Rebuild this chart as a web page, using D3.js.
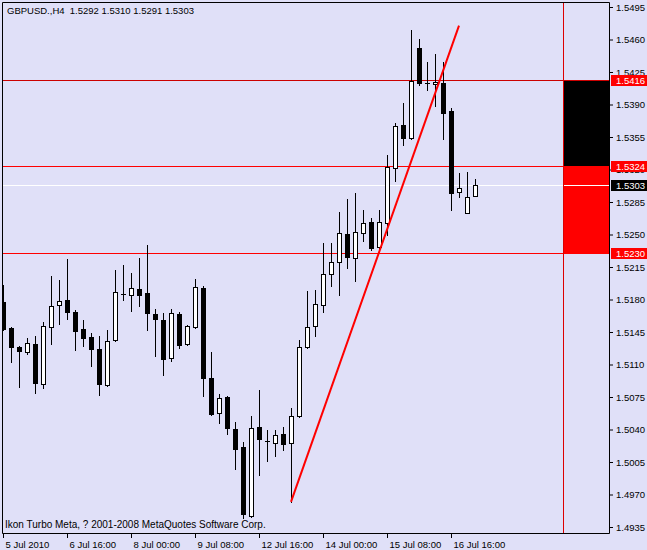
<!DOCTYPE html>
<html>
<head>
<meta charset="utf-8">
<script src="https://cdn.jsdelivr.net/npm/d3@7"></script>
<style>
  html, body { margin: 0; padding: 0; background: #E0E0F8; }
  svg { display: block; }
  text { font-family: "Liberation Sans", Arial, sans-serif; }
</style>
</head>
<body>
<svg id="chart" width="647" height="550"></svg>
<script>
// GBPUSD H4 candles, 5 Jul 2010 08:00 onwards (one entry per bar)
const opens  = [1.5177,1.5149,1.5129,1.5124,1.5132,1.5089,1.5150,1.5174,1.5179,1.5167,
                1.5148,1.5140,1.5127,1.5088,1.5136,1.5186,1.5185,1.5191,1.5187,1.5164,
                1.5158,1.5117,1.5164,1.5132,1.5150,1.5192,1.5095,1.5058,1.5075,1.5041,
                1.5021,1.4947,1.5043,1.5028,1.5026,1.5035,1.5025,1.5054,1.5129,1.5151,
                1.5174,1.5207,1.5220,1.5251,1.5225,1.5252,1.5264,1.5237,1.5262,1.5322,
                1.5368,1.5354,1.5451,1.5413,1.5412,1.5413,1.5383,1.5296,1.5273,1.5292];
const highs  = [1.5196,1.5150,1.5130,1.5139,1.5141,1.5156,1.5205,1.5201,1.5224,1.5169,
                1.5158,1.5144,1.5141,1.5147,1.5212,1.5217,1.5209,1.5225,1.5239,1.5170,
                1.5165,1.5170,1.5167,1.5153,1.5202,1.5195,1.5123,1.5078,1.5076,1.5048,
                1.5027,1.5055,1.5083,1.5039,1.5039,1.5043,1.5063,1.5136,1.5189,1.5190,
                1.5241,1.5241,1.5274,1.5288,1.5295,1.5276,1.5268,1.5276,1.5336,1.5370,
                1.5392,1.5470,1.5461,1.5436,1.5444,1.5436,1.5386,1.5316,1.5317,1.5310];
const lows   = [1.5147,1.5113,1.5086,1.5121,1.5079,1.5085,1.5132,1.5154,1.5159,1.5126,
                1.5130,1.5108,1.5077,1.5087,1.5135,1.5179,1.5168,1.5173,1.5147,1.5119,
                1.5099,1.5114,1.5128,1.5131,1.5149,1.5076,1.5056,1.5047,1.5035,1.4998,
                1.4945,1.4946,1.4991,1.5006,1.5011,1.5018,1.4962,1.5053,1.5128,1.5141,
                1.5167,1.5195,1.5185,1.5214,1.5200,1.5243,1.5233,1.5236,1.5250,1.5308,
                1.5346,1.5353,1.5411,1.5406,1.5388,1.5353,1.5276,1.5290,1.5273,1.5291];
const closes = [1.5148,1.5129,1.5125,1.5133,1.5090,1.5151,1.5173,1.5178,1.5167,1.5146,
                1.5139,1.5127,1.5089,1.5135,1.5188,1.5186,1.5192,1.5185,1.5165,1.5159,
                1.5116,1.5165,1.5131,1.5151,1.5193,1.5095,1.5057,1.5074,1.5042,1.5019,
                1.4949,1.5042,1.5030,1.5028,1.5034,1.5024,1.5054,1.5129,1.5150,1.5175,
                1.5208,1.5220,1.5252,1.5226,1.5253,1.5262,1.5236,1.5263,1.5323,1.5367,
                1.5354,1.5415,1.5413,1.5413,1.5414,1.5381,1.5295,1.5300,1.5290,1.5303];

// Time axis: bar index of each label and its text
const timeTickBars = [0, 8, 16, 24, 32, 40, 48, 56];
const timeLabels = ["5 Jul 2010", "6 Jul 16:00", "8 Jul 00:00", "9 Jul 08:00",
                    "12 Jul 16:00", "14 Jul 00:00", "15 Jul 08:00", "16 Jul 16:00"];

// Price axis ticks
const priceTicks = [1.4935, 1.4970, 1.5005, 1.5040, 1.5075, 1.5110, 1.5145, 1.5180,
                    1.5215, 1.5250, 1.5285, 1.5320, 1.5355, 1.5390, 1.5425, 1.5460, 1.5495];

// Indicator levels: upper, middle, lower; current bid
const levels = [1.5416, 1.5324, 1.5230];
const bidPrice = 1.5303;

// Trend line anchors (bar index, price)
const trendBars = [36, 57];
const trendPrices = [1.4962, 1.5475];

// Bar where the indicator's projection zone starts
const zoneStartBar = 70;

const symbolText = "GBPUSD.,H4";
const footerText = "Ikon Turbo Meta, ? 2001-2008 MetaQuotes Software Corp.";

const svg = d3.select("#chart");
const W = 647, H = 550;
const plot = { left: 2, top: 2, right: 609, bottom: 533 };

const x = d3.scaleLinear().domain([0, zoneStartBar]).range([3, 563]);
const y = d3.scaleLinear().domain([1.4935, 1.5495]).range([527, 7]);
const px = v => Math.round(y(v));
const fmt = d3.format(".4f");

svg.append("rect").attr("width", W).attr("height", H).attr("fill", "#E0E0F8");

svg.append("defs").append("clipPath").attr("id", "plotClip")
  .append("rect")
  .attr("x", plot.left + 1).attr("y", plot.top + 1)
  .attr("width", plot.right - plot.left - 1).attr("height", plot.bottom - plot.top - 1);

const g = svg.append("g").attr("clip-path", "url(#plotClip)");

// Projection zone boxes on the right
const zx = Math.round(x(zoneStartBar));
g.append("rect")
  .attr("x", zx).attr("y", px(levels[0]) + 1)
  .attr("width", plot.right - zx).attr("height", px(levels[1]) - px(levels[0]))
  .attr("fill", "#000");
g.append("rect")
  .attr("x", zx).attr("y", px(levels[1]) + 1)
  .attr("width", plot.right - zx).attr("height", px(levels[2]) - px(levels[1]))
  .attr("fill", "#ff0000");

// Horizontal level lines
const levelColors = ["#cc0000", "#ff0000", "#ff0000"];
levels.forEach((lv, i) => {
  g.append("line")
    .attr("x1", plot.left).attr("x2", plot.right)
    .attr("y1", px(lv) + 0.5).attr("y2", px(lv) + 0.5)
    .attr("stroke", levelColors[i]).attr("stroke-width", 1);
});

// Current bid line
g.append("line")
  .attr("x1", plot.left).attr("x2", plot.right)
  .attr("y1", px(bidPrice) + 0.5).attr("y2", px(bidPrice) + 0.5)
  .attr("stroke", "#ffffff").attr("stroke-width", 1);

// Zone separator
g.append("line")
  .attr("x1", zx + 0.5).attr("x2", zx + 0.5)
  .attr("y1", plot.top).attr("y2", plot.bottom)
  .attr("stroke", "#dd0000").attr("stroke-width", 1);

// Candles
const candles = g.append("g");
opens.forEach((o, i) => {
  const c = closes[i];
  const cx = Math.round(x(i));
  candles.append("line")
    .attr("x1", cx + 0.5).attr("x2", cx + 0.5)
    .attr("y1", px(highs[i])).attr("y2", px(lows[i]) + 1)
    .attr("stroke", "#000").attr("stroke-width", 1);
  const top = px(Math.max(o, c)), bot = px(Math.min(o, c));
  if (bot - top < 1) {
    candles.append("line")
      .attr("x1", cx - 2).attr("x2", cx + 3)
      .attr("y1", top + 0.5).attr("y2", top + 0.5)
      .attr("stroke", "#000").attr("stroke-width", 1);
  } else {
    candles.append("rect")
      .attr("x", cx - 1.5).attr("y", top + 0.5)
      .attr("width", 4).attr("height", bot - top)
      .attr("fill", c >= o ? "#ffffff" : "#000000")
      .attr("stroke", "#000").attr("stroke-width", 1);
  }
});

// Trend line
g.append("line")
  .attr("x1", x(trendBars[0])).attr("y1", y(trendPrices[0]))
  .attr("x2", x(trendBars[1])).attr("y2", y(trendPrices[1]))
  .attr("stroke", "#ff0000").attr("stroke-width", 2);

// Frame
svg.append("path")
  .attr("d", `M${plot.left + 0.5},${plot.bottom + 0.5}V${plot.top + 0.5}H${plot.right + 0.5}V${plot.bottom + 0.5}Z`)
  .attr("fill", "none").attr("stroke", "#000").attr("stroke-width", 1);

// Price axis
const yAxis = svg.append("g")
  .attr("transform", `translate(${plot.right},0)`)
  .call(d3.axisRight(y).tickValues(priceTicks).tickSize(4).tickFormat(fmt));
yAxis.select(".domain").remove();
yAxis.selectAll("text").attr("font-size", 9.5).attr("font-family", null).attr("fill", "#000");
yAxis.selectAll("line").attr("stroke", "#000");

// Time axis
const xAxis = svg.append("g")
  .attr("transform", `translate(0,${plot.bottom})`)
  .call(d3.axisBottom(x).tickValues(timeTickBars).tickSize(5)
        .tickFormat((d, i) => timeLabels[i]));
xAxis.select(".domain").remove();
xAxis.selectAll("text").attr("font-size", 9.5).attr("font-family", null)
  .attr("text-anchor", "start").attr("x", 2).attr("fill", "#000");
xAxis.selectAll("line").attr("stroke", "#000");

// Price tags for levels and bid (drawn over the axis labels they cover)
const tags = svg.append("g");
const tagData = levels.map(v => ({ v, bg: "#ff0000" })).concat([{ v: bidPrice, bg: "#000000" }]);
tagData.forEach(t => {
  const cy = px(t.v);
  tags.append("rect")
    .attr("x", plot.right + 2).attr("y", cy - 5)
    .attr("width", W - plot.right - 2).attr("height", 11)
    .attr("fill", t.bg);
  tags.append("text")
    .attr("x", plot.right + 7).attr("y", cy + 4)
    .attr("font-size", 9.5).attr("fill", "#fff")
    .text(fmt(t.v));
});

// Header: symbol, period and last bar OHLC
const last = opens.length - 1;
svg.append("text")
  .attr("x", 7).attr("y", 14).attr("font-size", 9.5).attr("fill", "#000")
  .attr("xml:space", "preserve")
  .text(`${symbolText}  ${fmt(opens[last])} ${fmt(highs[last])} ${fmt(lows[last])} ${fmt(closes[last])}`);

// Footer
svg.append("text")
  .attr("x", 5).attr("y", 528).attr("font-size", 10).attr("fill", "#000")
  .text(footerText);
</script>
</body>
</html>
